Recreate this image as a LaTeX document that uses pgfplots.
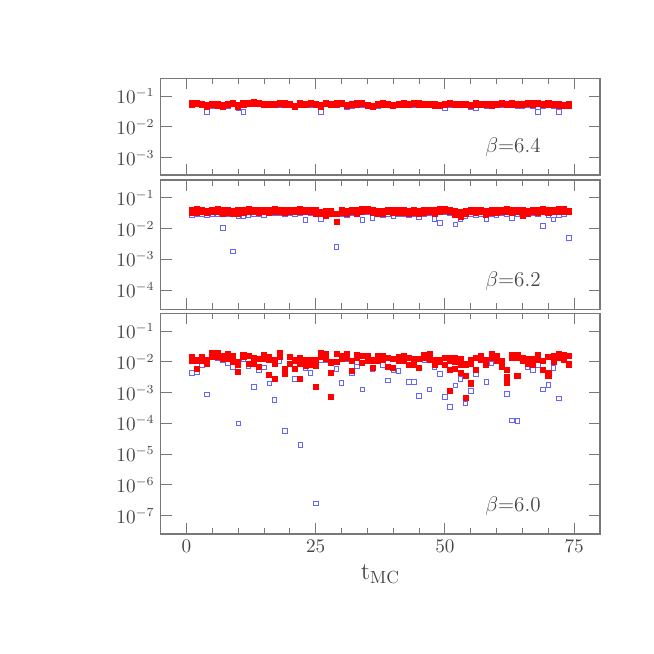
\documentclass[border=0pt]{standalone}
\usepackage{pgfplots}
\usepackage{pgfplotstable}
\pgfplotsset{compat=1.18}
\definecolor{framegray}{RGB}{120,120,120}
\definecolor{textgray}{RGB}{70,70,70}
\definecolor{openblue}{RGB}{100,100,255}

% t, red (upper), red (lower), blue
\pgfplotstableread{
t rA rB b
1 .058 .054 .052
2 .060 .055 .053
3 .055 .051 .050
4 .050 .046 .031
5 .055 .051 .048
6 .054 .050 .047
7 .050 .046 .043
8 .057 .052 .046
9 .062 .057 .053
10 .050 .046 .040
11 .058 .053 .031
12 .062 .057 .054
13 .063 .058 .055
14 .062 .057 .053
15 .057 .052 .052
16 .056 .051 .049
17 .055 .051 .049
18 .060 .055 .052
19 .058 .053 .050
20 .057 .052 .051
21 .048 .045 .045
22 .058 .053 .051
23 .055 .051 .049
24 .060 .055 .052
25 .057 .052 .050
26 .050 .046 .031
27 .060 .055 .053
28 .055 .051 .050
29 .058 .053 .051
30 .062 .057 .053
31 .052 .048 .043
32 .057 .052 .047
33 .058 .053 .050
34 .060 .055 .052
35 .053 .049 .047
36 .048 .045 .044
37 .055 .051 .048
38 .058 .053 .050
39 .057 .052 .050
40 .052 .048 .046
41 .055 .051 .049
42 .058 .053 .051
43 .057 .052 .050
44 .060 .055 .052
45 .059 .054 .051
46 .057 .052 .050
47 .055 .051 .049
48 .054 .050 .048
49 .053 .049 .046
50 .056 .051 .041
51 .060 .055 .052
52 .057 .052 .050
53 .055 .051 .049
54 .057 .052 .050
55 .052 .048 .045
56 .058 .053 .041
57 .056 .051 .049
58 .055 .051 .048
59 .054 .050 .047
60 .057 .052 .050
61 .060 .055 .052
62 .056 .051 .049
63 .058 .053 .050
64 .055 .051 .047
65 .057 .052 .048
66 .060 .055 .052
67 .058 .053 .046
68 .062 .057 .031
69 .056 .051 .048
70 .058 .053 .050
71 .055 .051 .048
72 .054 .050 .031
73 .052 .048 .046
74 .054 .050 .048
}\panelA

\pgfplotstableread{
t rA rB b
1 .042 .032 .027
2 .044 .033 .029
3 .040 .034 .030
4 .038 .032 .028
5 .042 .035 .029
6 .044 .036 .030
7 .040 .030 .0107
8 .041 .033 .029
9 .038 .030 .0018
10 .039 .031 .026
11 .040 .032 .026
12 .043 .035 .027
13 .041 .034 .029
14 .040 .033 .030
15 .041 .034 .028
16 .042 .033 .031
17 .043 .035 .032
18 .041 .034 .031
19 .040 .033 .030
20 .042 .034 .031
21 .041 .034 .030
22 .043 .035 .032
23 .041 .034 .019
24 .042 .036 .031
25 .040 .031 .033
26 .036 .030 .021
27 .038 .026 .030
28 .037 .030 .031
29 .031 .0168 .0025
30 .041 .033 .030
31 .038 .031 .028
32 .042 .034 .032
33 .040 .031 .030
34 .043 .036 .019
35 .045 .037 .035
36 .040 .033 .022
37 .038 .030 .029
38 .037 .030 .028
39 .041 .034 .030
40 .040 .032 .026
41 .041 .033 .030
42 .039 .032 .029
43 .038 .031 .027
44 .040 .033 .029
45 .038 .031 .023
46 .040 .033 .030
47 .041 .034 .032
48 .040 .031 .021
49 .043 .036 .0155
50 .045 .037 .034
51 .042 .034 .032
52 .038 .029 .0135
53 .036 .025 .021
54 .038 .030 .026
55 .041 .034 .029
56 .040 .032 .028
57 .042 .034 .030
58 .038 .029 .020
59 .040 .033 .030
60 .041 .033 .028
61 .042 .035 .031
62 .044 .036 .030
63 .040 .032 .022
64 .042 .034 .030
65 .040 .026 .031
66 .038 .031 .029
67 .042 .034 .031
68 .041 .033 .030
69 .043 .035 .012
70 .040 .032 .027
71 .042 .034 .020
72 .044 .035 .028
73 .045 .036 .029
74 .038 .034 .0049
}\panelB

\pgfplotstableread{
t rA rB b
1 .0145 .0107 .0044
2 .0120 .0107 .0045
3 .0148 .0107 .0076
4 .0112 .0087 .00087
5 .0200 .0151 .0145
6 .0200 .0141 .0130
7 .0158 .0126 .0115
8 .0178 .0126 .0093
9 .0158 .0100 .0069
10 .0100 .0079 .0001
11 .0170 .0141 .0126
12 .0158 .0089 .0072
13 .0132 .0089 .00155
14 .0126 .0071 .0054
15 .0166 .0126 .0065
16 .0141 .0117 .0020
17 .0112 .0089 .00058
18 .0191 .0141 .0107
19 .0060 .0040 .0000575
20 .0141 .0089 .0089
21 .0120 .0105 .0028
22 .0132 .0089 .00002
23 .0112 .0076 .0063
24 .0112 .0079 .0044
25 .0112 .0076 .00000025
26 .0191 .0141 .0117
27 .0178 .0126 .0110
28 .0100 .0090 .0042
29 .0178 .0100 .0060
30 .0158 .0126 .0021
31 .0178 .0135 .0126
32 .0105 .0050 .0044
33 .0170 .0135 .0072
34 .0158 .0095 .00126
35 .0158 .0105 .0105
36 .0112 .0063 .0056
37 .0158 .0112 .0105
38 .0158 .0120 .0079
39 .0132 .0068 .0025
40 .0126 .0063 .0053
41 .0141 .0107 .0051
42 .0158 .0107 .0107
43 .0132 .0079 .0022
44 .0126 .0079 .0022
45 .0126 .0063 .00079
46 .0170 .0135 .0117
47 .0180 .0115 .00126
48 .0117 .0083 .0065
49 .0120 .0100 .0040
50 .0132 .0079 .00074
51 .0132 .0112 .00035
52 .0132 .0100 .0017
53 .0126 .0079 .0028
54 .0089 .0079 .00045
55 .0117 .0089 .00112
56 .0132 .0056 .0040
57 .0158 .0117 .0112
58 .0117 .0083 .0022
59 .0178 .0135 .0089
60 .0158 .0112 .0105
61 .0105 .0071 .0071
62 .0056 .0032 .00089
63 .0166 .0135 .000126
64 .0166 .0135 .00012
65 .0138 .0105 .0105
66 .0126 .0089 .0069
67 .0126 .0083 .0054
68 .0166 .0120 .0079
69 .0110 .0056 .00126
70 .0141 .0045 .0018
71 .0158 .0100 .0063
72 .0178 .0135 .00065
73 .0166 .0120 .0115
74 .0158 .0083 .0085
}\panelC

\begin{document}
\begin{tikzpicture}
\useasboundingbox (0,0) rectangle (13.08,13.08);

% beta = 6.4
\begin{axis}[anchor=south west, at={(3.214cm,9.58cm)},
  scale only axis, width=8.786cm, height=1.934cm,
  xmin=-5, xmax=80, ymode=log, ymin=2.72e-4, ymax=0.38,
  xtick={0,25,50,75}, minor x tick num=4, xticklabels={},
  ytick={1e-1,1e-2,1e-3}, yminorticks=false,
  tick align=inside, xtick pos=both, ytick pos=both,
  major tick length=0.22cm, minor tick length=0.12cm,
  axis line style={framegray, line width=0.6pt},
  tick style={framegray, line width=0.6pt},
  tick label style={font=\fontsize{10.5}{12}\selectfont, text=textgray}]
\addplot[only marks, mark=square, mark size=1.3pt, mark options={draw=openblue, line width=0.5pt}] table[x=t, y=b] {\panelA};
\addplot[only marks, mark=square*, mark size=1.45pt, mark options={draw=red, fill=red}] table[x=t, y=rB] {\panelA};
\addplot[only marks, mark=square*, mark size=1.45pt, mark options={draw=red, fill=red}] table[x=t, y=rA] {\panelA};
\node[anchor=east, text=textgray, font=\fontsize{11.5}{13}\selectfont, yshift=0.56cm] at (rel axis cs:0.879,0) {$\beta{=}6.4$};
\end{axis}

% beta = 6.2
\begin{axis}[anchor=south west, at={(3.214cm,6.894cm)},
  scale only axis, width=8.786cm, height=2.586cm,
  xmin=-5, xmax=80, ymode=log, ymin=2.37e-5, ymax=0.38,
  xtick={0,25,50,75}, minor x tick num=4, xticklabels={},
  ytick={1e-1,1e-2,1e-3,1e-4}, yminorticks=false,
  tick align=inside, xtick pos=both, ytick pos=both,
  major tick length=0.22cm, minor tick length=0.12cm,
  axis line style={framegray, line width=0.6pt},
  tick style={framegray, line width=0.6pt},
  tick label style={font=\fontsize{10.5}{12}\selectfont, text=textgray}]
\addplot[only marks, mark=square, mark size=1.3pt, mark options={draw=openblue, line width=0.5pt}] table[x=t, y=b] {\panelB};
\addplot[only marks, mark=square*, mark size=1.45pt, mark options={draw=red, fill=red}] table[x=t, y=rB] {\panelB};
\addplot[only marks, mark=square*, mark size=1.45pt, mark options={draw=red, fill=red}] table[x=t, y=rA] {\panelB};
\node[anchor=east, text=textgray, font=\fontsize{11.5}{13}\selectfont, yshift=0.56cm] at (rel axis cs:0.879,0) {$\beta{=}6.2$};
\end{axis}

% beta = 6.0
\begin{axis}[anchor=south west, at={(3.214cm,2.4cm)},
  scale only axis, width=8.786cm, height=4.414cm,
  xmin=-5, xmax=80, ymode=log, ymin=2.53e-8, ymax=0.38,
  xtick={0,25,50,75}, minor x tick num=4,
  ytick={1e-1,1e-2,1e-3,1e-4,1e-5,1e-6,1e-7}, yminorticks=false,
  tick align=inside, xtick pos=both, ytick pos=both,
  major tick length=0.22cm, minor tick length=0.12cm,
  axis line style={framegray, line width=0.6pt},
  tick style={framegray, line width=0.6pt},
  tick label style={font=\fontsize{10.5}{12}\selectfont, text=textgray},
  xlabel={t$_{\mathrm{MC}}$},
  xlabel style={at={(axis description cs:0.5,0)}, anchor=center,
    yshift=-0.8cm, text=textgray, font=\fontsize{14}{16}\selectfont}]
\addplot[only marks, mark=square, mark size=1.3pt, mark options={draw=openblue, line width=0.5pt}] table[x=t, y=b] {\panelC};
\addplot[only marks, mark=square*, mark size=1.45pt, mark options={draw=red, fill=red}] table[x=t, y=rB] {\panelC};
\addplot[only marks, mark=square*, mark size=1.45pt, mark options={draw=red, fill=red}] table[x=t, y=rA] {\panelC};
\addplot[only marks, mark=square*, mark size=1.45pt, mark options={draw=red, fill=red}] coordinates {
  (2,.0060) (10,.0048) (16,.0039) (17,.0028) (21,.0060) (22,.0028)
  (25,.00155) (28,.0045) (28,.00074) (51,.0056) (51,.00115) (52,.0060)
  (53,.0045) (54,.0035) (54,.00068) (55,.0020) (62,.0021) (64,.0035)
  (70,.0035)};
\node[anchor=east, text=textgray, font=\fontsize{11.5}{13}\selectfont, yshift=0.56cm] at (rel axis cs:0.879,0) {$\beta{=}6.0$};
\end{axis}
\end{tikzpicture}
\end{document}
